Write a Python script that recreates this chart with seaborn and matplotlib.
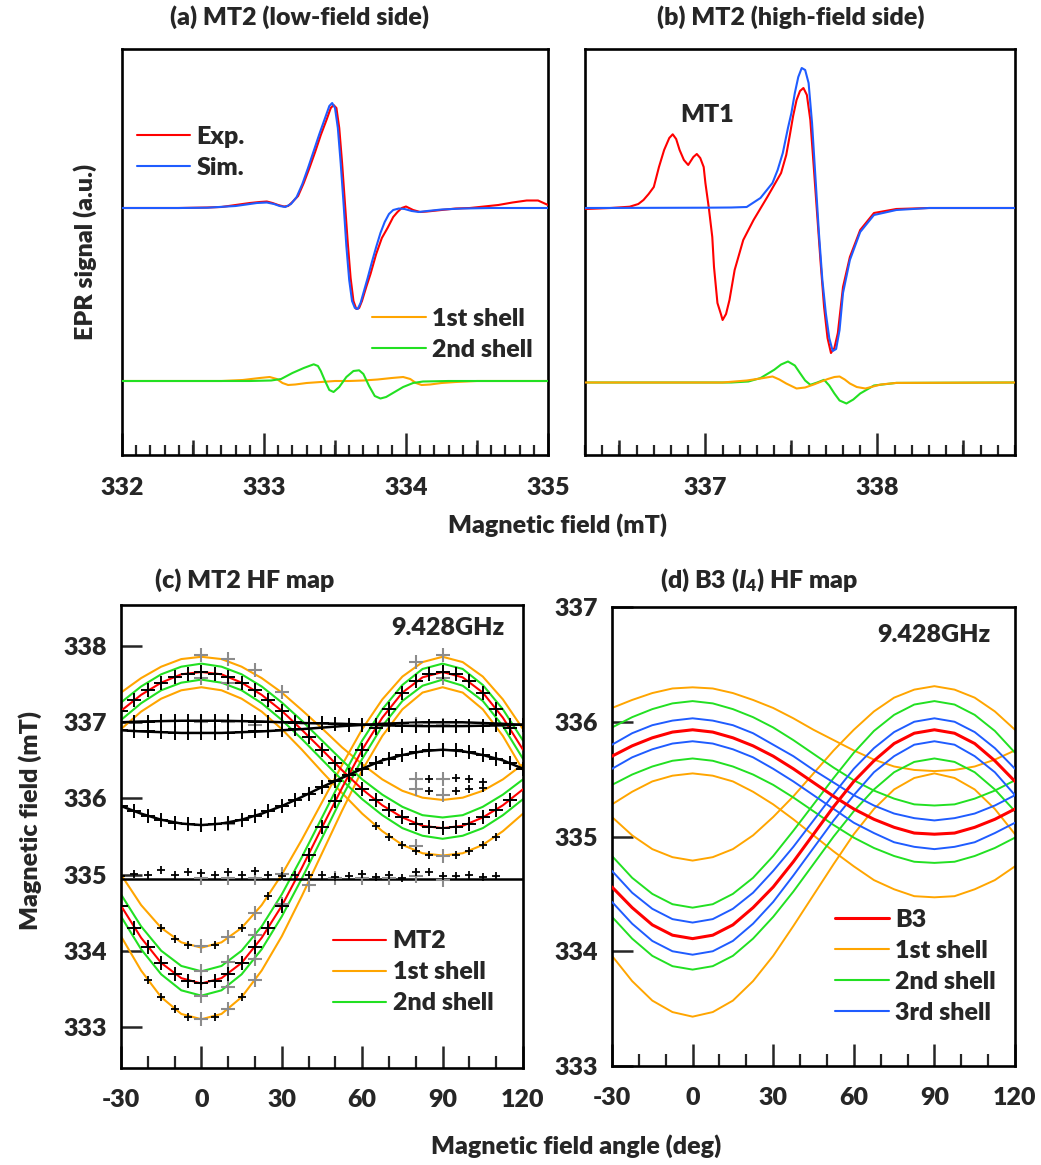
import numpy as np
import matplotlib
matplotlib.use("Agg")
import matplotlib.pyplot as plt
import seaborn as sns
from matplotlib.lines import Line2D
from matplotlib.ticker import MultipleLocator, FixedLocator

sns.set_theme(style="ticks")
plt.rcParams["font.family"] = ["Lato", "DejaVu Sans"]
plt.rcParams["font.weight"] = "heavy"
plt.rcParams["axes.unicode_minus"] = False
plt.rcParams["mathtext.fontset"] = "custom"
plt.rcParams["mathtext.rm"] = "Lato:heavy"
plt.rcParams["mathtext.it"] = "Lato:italic:heavy"
plt.rcParams["mathtext.bf"] = "Lato:heavy"
FS = 18
FW = "heavy"

RED = "#ff0000"
BLUE = "#1f5cff"
ORANGE = "#ffa500"
GREEN = "#22e022"
GRAY = "#8c8c8c"

# ---------------- (a) MT2 low-field side ----------------
exp_a_B = [332.00, 332.20, 332.40, 332.60, 332.70, 332.80, 332.90, 332.97, 333.02, 333.06, 333.10, 333.14, 333.17,
           333.20, 333.24, 333.28, 333.32, 333.36, 333.40, 333.44, 333.47, 333.49, 333.51, 333.53, 333.55, 333.57,
           333.59, 333.61, 333.63, 333.65, 333.67, 333.69, 333.72, 333.75, 333.79, 333.83, 333.87, 333.91, 333.94,
           333.97, 334.00, 334.05, 334.10, 334.15, 334.25, 334.35, 334.45, 334.55, 334.65, 334.75, 334.85, 334.93, 335.00]
exp_a_S = [0.00, 0.00, 0.00, 0.005, 0.01, 0.03, 0.05, 0.06, 0.065, 0.05, 0.03, 0.015, 0.02,
           0.06, 0.12, 0.25, 0.40, 0.56, 0.73, 0.88, 1.00, 1.03, 1.00, 0.80, 0.45, 0.05,
           -0.35, -0.70, -0.93, -1.01, -1.00, -0.93, -0.79, -0.66, -0.46, -0.30, -0.20, -0.09, -0.04,
           0.00, 0.015, -0.02, -0.04, -0.035, -0.02, -0.005, 0.00, 0.015, 0.03, 0.055, 0.075, 0.075, 0.03]
sim_a_B = [332.00, 332.40, 332.60, 332.80, 332.95, 333.02, 333.07, 333.11, 333.15, 333.19, 333.23, 333.27, 333.31,
           333.35, 333.39, 333.43, 333.46, 333.48, 333.50, 333.52, 333.54, 333.56, 333.58, 333.60, 333.62, 333.64,
           333.66, 333.68, 333.70, 333.73, 333.76, 333.79, 333.82, 333.85, 333.88, 333.91, 333.95, 333.99, 334.04,
           334.09, 334.15, 334.25, 334.40, 334.60, 335.00]
sim_a_S = [0.00, 0.00, 0.003, 0.02, 0.05, 0.055, 0.04, 0.02, 0.01, 0.04, 0.11, 0.24, 0.40,
           0.57, 0.74, 0.90, 1.02, 1.05, 1.00, 0.80, 0.45, 0.05, -0.38, -0.72, -0.93, -1.00,
           -1.01, -0.95, -0.85, -0.70, -0.54, -0.39, -0.25, -0.14, -0.06, -0.02, -0.005, -0.01, -0.03,
           -0.04, -0.03, -0.015, -0.005, 0.00, 0.00]
sh1_a_B = [332.00, 332.70, 332.85, 332.97, 333.04, 333.09, 333.13, 333.17, 333.22, 333.30, 333.40, 333.50, 333.60,
           333.70, 333.80, 333.90, 333.98, 334.03, 334.07, 334.11, 334.17, 334.25, 334.35, 334.50, 335.00]
sh1_a_S = [0.00, 0.00, 0.01, 0.03, 0.04, 0.02, -0.02, -0.04, -0.035, -0.02, -0.01, 0.00, 0.00,
           0.005, 0.015, 0.03, 0.04, 0.02, -0.02, -0.04, -0.035, -0.02, -0.01, 0.00, 0.00]
sh2_a_B = [332.00, 332.90, 333.05, 333.12, 333.20, 333.28, 333.35, 333.38, 333.40, 333.43, 333.46, 333.49, 333.53,
           333.58, 333.63, 333.67, 333.70, 333.74, 333.78, 333.82, 333.86, 333.92, 333.98, 334.05, 334.12, 334.30, 335.00]
sh2_a_S = [0.00, 0.00, 0.005, 0.02, 0.08, 0.13, 0.167, 0.15, 0.10, 0.00, -0.09, -0.11, -0.06,
           0.04, 0.10, 0.107, 0.07, -0.05, -0.15, -0.175, -0.16, -0.11, -0.06, -0.02, -0.005, 0.00, 0.00]

# ---------------- (b) MT2 high-field side ----------------
exp_b_B = [336.30, 336.45, 336.56, 336.61, 336.64, 336.67, 336.70, 336.73, 336.76, 336.79, 336.81, 336.83, 336.85,
           336.875, 336.90, 336.93, 336.95, 336.97, 336.99, 337.00, 337.02, 337.04, 337.05, 337.07, 337.09, 337.10,
           337.12, 337.14, 337.17, 337.22, 337.28, 337.36, 337.44, 337.47, 337.49, 337.51, 337.53, 337.55, 337.57,
           337.59, 337.61, 337.63, 337.65, 337.67, 337.69, 337.71, 337.73, 337.75, 337.77, 337.80, 337.84, 337.90,
           337.98, 338.11, 338.30, 338.80]
exp_b_S = [-0.01, 0.00, 0.013, 0.04, 0.08, 0.14, 0.21, 0.41, 0.58, 0.70, 0.737, 0.69, 0.58,
           0.48, 0.43, 0.51, 0.54, 0.50, 0.41, 0.25, 0.00, -0.29, -0.59, -0.95, -1.06, -1.12,
           -1.06, -0.92, -0.62, -0.32, -0.12, 0.11, 0.35, 0.53, 0.72, 0.92, 1.08, 1.17, 1.20,
           1.13, 0.88, 0.41, -0.07, -0.55, -0.99, -1.30, -1.45, -1.40, -1.25, -0.79, -0.49, -0.22,
           -0.05, -0.01, 0.00, 0.00]
sim_b_B = [336.30, 337.00, 337.15, 337.24, 337.32, 337.39, 337.42, 337.45, 337.48, 337.50, 337.52, 337.54, 337.56,
           337.58, 337.60, 337.62, 337.64, 337.66, 337.68, 337.70, 337.72, 337.74, 337.76, 337.78, 337.80, 337.84,
           337.90, 337.98, 338.11, 338.30, 338.80]
sim_b_S = [0.00, 0.003, 0.005, 0.01, 0.10, 0.25, 0.38, 0.55, 0.80, 0.95, 1.15, 1.31, 1.40,
           1.38, 1.25, 0.85, 0.30, -0.25, -0.72, -1.05, -1.30, -1.43, -1.41, -1.22, -0.85, -0.52,
           -0.24, -0.07, -0.02, 0.00, 0.00]
sh1_b_B = [336.30, 337.10, 337.24, 337.32, 337.39, 337.43, 337.47, 337.53, 337.58, 337.63, 337.71, 337.75, 337.78,
           337.81, 337.84, 337.88, 337.93, 338.02, 338.11, 338.80]
sh1_b_S = [0.00, 0.00, 0.02, 0.04, 0.06, 0.03, -0.01, -0.06, -0.05, -0.02, 0.034, 0.055, 0.06,
           0.03, -0.01, -0.045, -0.06, -0.02, -0.004, 0.00]
sh2_b_B = [336.30, 337.15, 337.25, 337.32, 337.40, 337.44, 337.48, 337.52, 337.55, 337.58, 337.61, 337.65, 337.69,
           337.72, 337.75, 337.78, 337.82, 337.86, 337.90, 337.98, 338.11, 338.80]
sh2_b_S = [0.00, 0.00, 0.01, 0.044, 0.127, 0.18, 0.21, 0.17, 0.094, 0.02, -0.023, 0.00, 0.027,
           -0.03, -0.11, -0.18, -0.21, -0.17, -0.11, -0.03, -0.004, 0.00]

# ---------------- angle grid for HF maps ----------------
ANG = [-30, -22.5, -15, -7.5, 0, 7.5, 15, 22.5, 30, 37.5, 45, 52.5, 60, 67.5, 75, 82.5, 90, 97.5, 105, 112.5, 120]

# (c) MT2 HF map simulated lines
c_mt2_1 = [337.15, 337.36, 337.52, 337.63, 337.66, 337.63, 337.52, 337.36, 337.15, 336.90, 336.64, 336.37, 336.12, 335.91, 335.75, 335.64, 335.61, 335.64, 335.75, 335.91, 336.12]
c_mt2_2 = [334.59, 334.17, 333.84, 333.64, 333.57, 333.64, 333.84, 334.17, 334.59, 335.09, 335.62, 336.14, 336.64, 337.06, 337.39, 337.59, 337.66, 337.59, 337.39, 337.06, 336.64]
c_sh2_1u = [337.26, 337.47, 337.63, 337.73, 337.77, 337.73, 337.63, 337.47, 337.26, 337.02, 336.76, 336.50, 336.25, 336.05, 335.89, 335.78, 335.75, 335.78, 335.89, 336.05, 336.25]
c_sh2_1l = [337.03, 337.25, 337.42, 337.52, 337.56, 337.52, 337.42, 337.25, 337.03, 336.78, 336.51, 336.24, 335.99, 335.78, 335.61, 335.51, 335.47, 335.51, 335.61, 335.78, 335.99]
c_sh2_2u = [334.74, 334.32, 334.00, 333.80, 333.73, 333.80, 334.00, 334.32, 334.74, 335.23, 335.75, 336.27, 336.76, 337.17, 337.49, 337.70, 337.77, 337.70, 337.49, 337.17, 336.76]
c_sh2_2l = [334.45, 334.02, 333.69, 333.48, 333.41, 333.48, 333.69, 334.02, 334.45, 334.95, 335.48, 336.02, 336.52, 336.95, 337.28, 337.48, 337.56, 337.48, 337.28, 336.95, 336.52]
c_sh1_1u = [337.39, 337.58, 337.73, 337.83, 337.86, 337.83, 337.73, 337.58, 337.39, 337.16, 336.92, 336.67, 336.45, 336.25, 336.10, 336.01, 335.98, 336.01, 336.10, 336.25, 336.45]
c_sh1_1l = [336.91, 337.14, 337.31, 337.42, 337.46, 337.42, 337.31, 337.14, 336.91, 336.64, 336.35, 336.07, 335.80, 335.57, 335.39, 335.28, 335.25, 335.28, 335.39, 335.57, 335.80]
c_sh1_2u = [335.00, 334.60, 334.30, 334.11, 334.04, 334.11, 334.30, 334.60, 335.00, 335.46, 335.95, 336.44, 336.91, 337.30, 337.60, 337.79, 337.86, 337.79, 337.60, 337.30, 336.91]
c_sh1_2l = [334.19, 333.74, 333.39, 333.17, 333.10, 333.17, 333.39, 333.74, 334.19, 334.72, 335.28, 335.84, 336.37, 336.82, 337.17, 337.39, 337.46, 337.39, 337.17, 336.82, 336.37]
c_blk_A = [337.00, 337.01, 337.015, 337.02, 337.02, 337.02, 337.015, 337.01, 337.00, 336.99, 336.985, 336.98, 336.97, 336.96, 336.955, 336.95, 336.95, 336.95, 336.955, 336.96, 336.97]
c_blk_B = [336.895, 336.88, 336.87, 336.86, 336.86, 336.86, 336.87, 336.88, 336.895, 336.91, 336.93, 336.95, 336.965, 336.98, 336.99, 337.00, 337.00, 337.00, 336.99, 336.98, 336.965]
c_blk_C = [335.90, 335.80, 335.72, 335.67, 335.65, 335.67, 335.72, 335.80, 335.90, 336.02, 336.15, 336.27, 336.39, 336.50, 336.57, 336.62, 336.64, 336.62, 336.57, 336.50, 336.39]
c_blk_D = [334.94, 334.94, 334.94, 334.94, 334.94, 334.94, 334.94, 334.94, 334.94, 334.94, 334.94, 334.94, 334.94, 334.94, 334.94, 334.94, 334.94, 334.94, 334.94, 334.94, 334.94]

# (c) measured points: large black crosses
pt_big_ang = ([-30, -25, -20, -15, -10, -5, 0, 5, 10, 15, 20, 25, 30, 35, 40, 45, 50, 60, 65, 70, 75, 80, 85, 90, 95, 100, 105, 110, 115]
              + [-30, -25, -20, -15, -10, -5, 0, 5, 10, 15, 20, 25, 30, 40, 45, 50, 55, 60, 65, 70, 75, 80, 85, 90, 95, 100, 105, 110, 115]
              + list(range(-30, 121, 5))
              + list(range(-30, 36, 5))
              + list(range(-30, 121, 5)))
pt_big_B = ([337.15, 337.29, 337.42, 337.52, 337.60, 337.64, 337.66, 337.64, 337.60, 337.52, 337.42, 337.29, 337.15, 336.99, 336.81, 336.64, 336.46, 336.12, 335.98, 335.85, 335.75, 335.67, 335.63, 335.61, 335.63, 335.67, 335.75, 335.85, 335.98]
            + [334.59, 334.30, 334.05, 333.84, 333.69, 333.60, 333.57, 333.60, 333.69, 333.84, 334.05, 334.30, 334.59, 335.26, 335.62, 335.97, 336.31, 336.64, 336.93, 337.18, 337.39, 337.54, 337.63, 337.66, 337.63, 337.54, 337.39, 337.18, 336.93]
            + [337.00, 337.01, 337.01, 337.02, 337.02, 337.02, 337.02, 337.02, 337.02, 337.02, 337.01, 337.01, 337.00, 337.00, 336.99, 336.99, 336.98, 336.97, 336.97, 336.96, 336.96, 336.95, 336.95, 336.95, 336.95, 336.95, 336.95, 336.95, 336.96, 336.96, 336.97]
            + [336.90, 336.89, 336.88, 336.87, 336.86, 336.86, 336.86, 336.86, 336.86, 336.87, 336.88, 336.89, 336.90, 336.91]
            + [335.90, 335.83, 335.77, 335.72, 335.68, 335.66, 335.65, 335.66, 335.68, 335.72, 335.77, 335.83, 335.90, 335.98, 336.06, 336.15, 336.23, 336.31, 336.39, 336.46, 336.52, 336.57, 336.61, 336.63, 336.64, 336.63, 336.61, 336.57, 336.52, 336.46, 336.39])

# (c) measured points: small black crosses
pt_small_ang = (list(range(-30, 111, 5))
                + [85, 95, 100, 105, 85, 95, 100, 105]
                + [-15, -10, -5, 5, 15, 25]
                + [-20, -15, -10, -5, 5, 15]
                + [65, 70, 75, 80, 85, 95, 100, 105, 110])
pt_small_B = ([334.98, 335.01, 335.00, 335.06, 334.99, 335.03, 335.02, 335.00, 335.03, 335.00, 335.05, 335.00, 334.98, 335.00, 334.99,
               335.00, 334.97, 334.98, 335.01, 334.97, 335.00, 334.95, 335.04, 335.03, 334.98, 334.98, 335.00, 334.97, 334.98]
              + [336.26, 336.27, 336.25, 336.22, 336.10, 336.10, 336.12, 336.14]
              + [334.30, 334.15, 334.07, 334.07, 334.30, 334.72]
              + [333.61, 333.39, 333.23, 333.13, 333.13, 333.39]
              + [335.64, 335.50, 335.39, 335.31, 335.26, 335.26, 335.31, 335.39, 335.50])

# (c) gray crosses
pt_gray_ang = [0, 0, 10, 10, 20, 30, 80, 90, 90, 0, 10, 20, 80, 90, 90, 80, 90, 80, 90, 0, 10, 30,
               0, 10, 20, 50, 60, 70, 80, 90, 0, 0, 0, 0, 10, 10, 10, 10, 20, 20, 20, 20, 30, 40, 90, 80]
pt_gray_B = [337.88, 337.58, 337.83, 337.52, 337.69, 337.40, 337.79, 337.88, 337.58, 337.00, 337.00, 336.96, 336.98, 336.97,
             336.64, 336.25, 336.25, 336.12, 336.05, 335.65, 335.66, 335.01,
             334.96, 334.96, 334.96, 334.96, 334.96, 334.96, 334.98, 334.93,
             334.06, 333.73, 333.41, 333.10, 334.18, 333.85, 333.53, 333.23, 334.49, 334.20, 333.89, 333.61, 334.62, 334.86,
             335.25, 335.38]

# (d) B3 (I4) HF map simulated lines
d_b3_1 = [335.70, 335.79, 335.86, 335.91, 335.93, 335.91, 335.86, 335.79, 335.70, 335.59, 335.47, 335.35, 335.24, 335.15, 335.08, 335.03, 335.02, 335.03, 335.08, 335.15, 335.24]
d_b3_2 = [334.56, 334.38, 334.23, 334.14, 334.11, 334.14, 334.23, 334.38, 334.56, 334.78, 335.02, 335.26, 335.48, 335.66, 335.81, 335.90, 335.93, 335.90, 335.81, 335.66, 335.48]
d_sh1_1u = [336.12, 336.19, 336.25, 336.29, 336.30, 336.29, 336.25, 336.19, 336.12, 336.03, 335.93, 335.84, 335.75, 335.67, 335.61, 335.58, 335.57, 335.58, 335.61, 335.67, 335.75]
d_sh1_1l = [335.28, 335.39, 335.48, 335.53, 335.55, 335.53, 335.48, 335.39, 335.28, 335.15, 335.01, 334.87, 334.74, 334.62, 334.54, 334.48, 334.47, 334.48, 334.54, 334.62, 334.74]
d_sh1_2u = [335.17, 335.01, 334.89, 334.82, 334.79, 334.82, 334.89, 335.01, 335.17, 335.35, 335.55, 335.75, 335.93, 336.09, 336.21, 336.28, 336.31, 336.28, 336.21, 336.09, 335.93]
d_sh1_2l = [333.96, 333.74, 333.57, 333.47, 333.43, 333.47, 333.57, 333.74, 333.96, 334.22, 334.49, 334.76, 335.02, 335.24, 335.41, 335.51, 335.55, 335.51, 335.41, 335.24, 335.02]
d_sh2_1u = [335.95, 336.04, 336.11, 336.16, 336.18, 336.16, 336.11, 336.04, 335.95, 335.84, 335.72, 335.60, 335.49, 335.40, 335.33, 335.28, 335.27, 335.28, 335.33, 335.40, 335.49]
d_sh2_1l = [335.45, 335.54, 335.61, 335.66, 335.68, 335.66, 335.61, 335.54, 335.45, 335.34, 335.22, 335.10, 334.99, 334.90, 334.83, 334.78, 334.77, 334.78, 334.83, 334.90, 334.99]
d_sh2_2u = [334.83, 334.64, 334.50, 334.41, 334.38, 334.41, 334.50, 334.64, 334.83, 335.05, 335.28, 335.51, 335.73, 335.92, 336.06, 336.15, 336.18, 336.15, 336.06, 335.92, 335.73]
d_sh2_2l = [334.30, 334.11, 333.96, 333.87, 333.84, 333.87, 333.96, 334.11, 334.30, 334.52, 334.76, 335.00, 335.22, 335.41, 335.56, 335.65, 335.68, 335.65, 335.56, 335.41, 335.22]
d_sh3_1u = [335.80, 335.90, 335.97, 336.01, 336.03, 336.01, 335.97, 335.90, 335.80, 335.70, 335.58, 335.47, 335.36, 335.27, 335.20, 335.16, 335.14, 335.16, 335.20, 335.27, 335.36]
d_sh3_1l = [335.59, 335.69, 335.76, 335.81, 335.83, 335.81, 335.76, 335.69, 335.59, 335.48, 335.36, 335.24, 335.12, 335.03, 334.95, 334.91, 334.89, 334.91, 334.95, 335.03, 335.12]
d_sh3_2u = [334.70, 334.51, 334.37, 334.28, 334.25, 334.28, 334.37, 334.51, 334.70, 334.91, 335.14, 335.37, 335.59, 335.77, 335.91, 336.00, 336.03, 336.00, 335.91, 335.77, 335.59]
d_sh3_2l = [334.43, 334.24, 334.09, 334.00, 333.97, 334.00, 334.09, 334.24, 334.43, 334.66, 334.90, 335.14, 335.36, 335.56, 335.70, 335.80, 335.83, 335.80, 335.70, 335.56, 335.36]

# ---------------- helpers ----------------
def sline(ax, x, y, color, lw, off=0.0, z=2):
    sns.lineplot(x=np.asarray(x, float), y=np.asarray(y, float) + off, ax=ax, color=color,
                 linewidth=lw, sort=False, estimator=None, errorbar=None, zorder=z)


def spts(ax, x, y, color, s, lw, z=5):
    sns.scatterplot(x=np.asarray(x, float), y=np.asarray(y, float), ax=ax, marker="+", s=s,
                    color=color, linewidth=lw, zorder=z, legend=False)


def frame(ax):
    for sp in ax.spines.values():
        sp.set_visible(True)
        sp.set_color("black")
        sp.set_linewidth(1.9)
    ax.set_xlabel("")
    ax.set_ylabel("")


def legend(ax, labels, colors, x, y, lw=1.5):
    handles = [Line2D([0], [0], color=c, lw=lw) for c in colors]
    ax.legend(handles, labels, loc="center left", bbox_to_anchor=(x, y), frameon=False,
              handlelength=2.15, handletextpad=0.25, labelspacing=0.36,
              borderpad=0, borderaxespad=0, prop={"weight": FW, "size": FS})


W, H = 1041, 1165
fig = plt.figure(figsize=(W / 100, H / 100), dpi=100)


def add_ax(x0, y0, x1, y1):
    return fig.add_axes([x0 / W, 1 - y1 / H, (x1 - x0) / W, (y1 - y0) / H])


ax_a = add_ax(122, 49, 548, 455)
ax_b = add_ax(585, 49, 1015, 455)
ax_c = add_ax(121, 605, 523, 1068)
ax_d = add_ax(612, 607, 1015, 1066)

SHELL_OFF_A = -1.73
SHELL_OFF_B = -1.745
YLIM_AB = (-2.47, 1.59)

# ----- panel a -----
sline(ax_a, sh1_a_B, sh1_a_S, ORANGE, 1.5, SHELL_OFF_A, z=2)
sline(ax_a, sh2_a_B, sh2_a_S, GREEN, 1.5, SHELL_OFF_A, z=3)
sline(ax_a, exp_a_B, exp_a_S, RED, 1.5, z=3)
sline(ax_a, sim_a_B, sim_a_S, BLUE, 1.5, z=4)
ax_a.set_xlim(332, 335)
ax_a.set_ylim(*YLIM_AB)

# ----- panel b -----
sline(ax_b, sh2_b_B, sh2_b_S, GREEN, 1.5, SHELL_OFF_B, z=2)
sline(ax_b, sh1_b_B, sh1_b_S, ORANGE, 1.5, SHELL_OFF_B, z=3)
sline(ax_b, exp_b_B, exp_b_S, RED, 1.5, z=3)
sline(ax_b, sim_b_B, sim_b_S, BLUE, 1.5, z=4)
ax_b.set_xlim(336.30, 338.80)
ax_b.set_ylim(*YLIM_AB)
ax_b.text(337.01, 0.93, "MT1", ha="center", va="center", fontsize=FS, fontweight=FW)

for ax, majors, halves in [(ax_a, [332, 333, 334, 335], [332.5, 333.5, 334.5]),
                           (ax_b, [337, 338], [336.5, 337.5, 338.5])]:
    frame(ax)
    ax.set_yticks([])
    ax.xaxis.set_major_locator(FixedLocator(majors))
    ax.xaxis.set_minor_locator(MultipleLocator(0.1))
    ax.set_xticklabels([str(m) for m in majors])
    ax.tick_params(axis="x", which="major", direction="in", length=16, width=1.8, pad=16,
                   labelsize=FS, bottom=True, top=False)
    ax.tick_params(axis="x", which="minor", direction="in", length=7.5, width=1.6, bottom=True, top=False)
    sec = ax.secondary_xaxis("bottom")
    sec.set_xticks(halves)
    sec.set_xticklabels([])
    sec.tick_params(axis="x", direction="in", length=11, width=1.8)
    for sp in sec.spines.values():
        sp.set_visible(False)
    for lab in ax.get_xticklabels():
        lab.set_fontweight(FW)

legend(ax_a, ["Exp.", "Sim."], [RED, BLUE], 0.0345, 0.746)
leg_a1 = ax_a.get_legend()
ax_a.add_artist(leg_a1)
legend(ax_a, ["1st shell", "2nd shell"], [ORANGE, GREEN], 0.5876, 0.2975)

# ----- panel c -----
lw_c = 1.5
for arr in [c_sh1_1u, c_sh1_1l, c_sh1_2u, c_sh1_2l]:
    sline(ax_c, ANG, arr, ORANGE, lw_c, z=2)
for arr in [c_sh2_1u, c_sh2_1l, c_sh2_2u, c_sh2_2l]:
    sline(ax_c, ANG, arr, GREEN, lw_c, z=2.5)
for arr in [c_mt2_1, c_mt2_2]:
    sline(ax_c, ANG, arr, RED, lw_c, z=3)
for arr in [c_blk_A, c_blk_B, c_blk_C, c_blk_D]:
    sline(ax_c, ANG, arr, "black", 1.8, z=3)
spts(ax_c, pt_gray_ang, pt_gray_B, GRAY, 90, 1.5, z=4)
spts(ax_c, pt_big_ang, pt_big_B, "black", 90, 1.4, z=5)
spts(ax_c, pt_small_ang, pt_small_B, "black", 30, 1.3, z=5)
ax_c.set_xlim(-30, 120)
ax_c.set_ylim(332.46, 338.54)
ax_c.set_yticks([333, 334, 335, 336, 337, 338])
ax_c.text(0.955, 0.950, "9.428GHz", transform=ax_c.transAxes, ha="right", va="center",
          fontsize=FS, fontweight=FW)
legend(ax_c, ["MT2", "1st shell", "2nd shell"], [RED, ORANGE, GREEN], 0.5266, 0.2067)

# ----- panel d -----
lw_d = 1.4
for arr in [d_sh1_1u, d_sh1_1l, d_sh1_2u, d_sh1_2l]:
    sline(ax_d, ANG, arr, ORANGE, lw_d, z=2)
for arr in [d_sh2_1u, d_sh2_1l, d_sh2_2u, d_sh2_2l]:
    sline(ax_d, ANG, arr, GREEN, lw_d, z=2.5)
for arr in [d_sh3_1u, d_sh3_1l, d_sh3_2u, d_sh3_2l]:
    sline(ax_d, ANG, arr, BLUE, lw_d, z=2.7)
for arr in [d_b3_1, d_b3_2]:
    sline(ax_d, ANG, arr, RED, 2.2, z=3)
ax_d.set_xlim(-30, 120)
ax_d.set_ylim(333, 337)
ax_d.set_yticks([333, 334, 335, 336, 337])
ax_d.text(0.938, 0.939, "9.428GHz", transform=ax_d.transAxes, ha="right", va="center",
          fontsize=FS, fontweight=FW)
legend(ax_d, ["B3", "1st shell", "2nd shell", "3rd shell"], [RED, ORANGE, GREEN, BLUE], 0.5533, 0.2165)
for line_ in ax_d.get_legend().get_lines()[:1]:
    line_.set_linewidth(2.2)

for ax in (ax_c, ax_d):
    frame(ax)
    ax.set_xticks([-30, 0, 30, 60, 90, 120])
    ax.xaxis.set_minor_locator(MultipleLocator(10))
    ax.tick_params(axis="x", which="major", direction="in", length=16, width=1.8, pad=15,
                   labelsize=FS, bottom=True, top=False)
    ax.tick_params(axis="x", which="minor", direction="in", length=8.5, width=1.6, bottom=True, top=False)
    ax.tick_params(axis="y", which="major", direction="in", length=15, width=1.8, pad=10,
                   labelsize=FS, left=True, right=False)
    for lab in ax.get_xticklabels() + ax.get_yticklabels():
        lab.set_fontweight(FW)

# ----- figure texts -----
def ftext(x, y, s, **kw):
    fig.text(x / W, 1 - y / H, s, ha="center", va="center", fontsize=FS, fontweight=FW, **kw)


ftext(300, 17, "(a) MT2 (low-field side)")
ftext(791, 17, "(b) MT2 (high-field side)")
ftext(245, 580, "(c) MT2 HF map")
ftext(759, 580, r"(d) B3 ($\mathit{I}_{4}$) HF map")
ftext(558, 525, "Magnetic field (mT)")
ftext(576, 1146, "Magnetic field angle (deg)")
ftext(85, 252, "EPR signal (a.u.)", rotation=90)
ftext(30, 820, "Magnetic field (mT)", rotation=90)

fig.savefig("out.png", dpi=100)
